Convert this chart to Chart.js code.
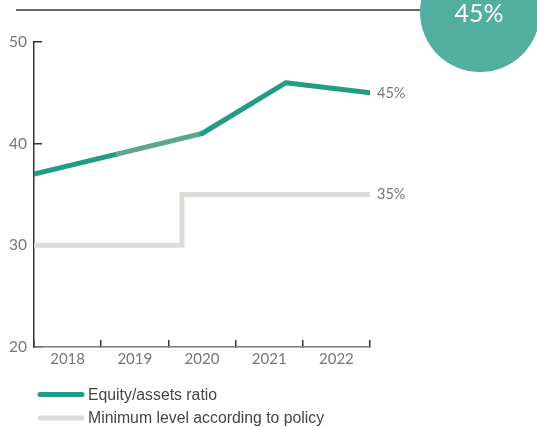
<!DOCTYPE html>
<html>
<head>
<meta charset="utf-8">
<script src="https://cdn.jsdelivr.net/npm/chart.js@4/dist/chart.umd.min.js"></script>
<style>
  html, body { margin: 0; padding: 0; background: #ffffff; }
  canvas { display: block; }
</style>
</head>
<body>
<canvas id="c" width="537" height="428"></canvas>
<script>
// Year labels along the bottom axis
const years = ['2018', '2019', '2020', '2021', '2022'];

// Equity/assets ratio (%), one value per year position
const equityX = [0, 1, 2, 3, 4];
const equityY = [37, 39, 41, 46, 45];

// Minimum level according to policy (%), stepped when the policy changed
const minX = [0, 1.76, 1.76, 4];
const minY = [30, 30, 35, 35];

// Y axis tick values
const yTicks = [20, 30, 40, 50];

const seriesNames = ['Equity/assets ratio', 'Minimum level according to policy'];

const TEAL = '#229c85';
const TEAL_LIGHT = '#5ba78f';
const GREY = '#dcdcd8';
const CIRCLE = '#52ae9f';
const LABEL_GREY = '#767676';
const TICK_FONT = "'Lato', 'Open Sans', sans-serif";

const toPoints = (xs, ys) => xs.map((x, i) => ({ x: x, y: ys[i] }));

// Extra drawings: header rule, highlight bubble, end-of-line labels, legend
const decorations = {
  id: 'decorations',
  afterDraw(chart) {
    const ctx = chart.ctx;
    ctx.save();

    // header rule
    ctx.strokeStyle = '#333333';
    ctx.lineWidth = 1.5;
    ctx.beginPath();
    ctx.moveTo(16, 10);
    ctx.lineTo(430, 10);
    ctx.stroke();

    // highlight bubble with the latest ratio
    ctx.fillStyle = CIRCLE;
    ctx.beginPath();
    ctx.arc(480, 12, 60, 0, Math.PI * 2);
    ctx.fill();
    const latest = chart.data.datasets[0].data;
    ctx.fillStyle = '#ffffff';
    ctx.font = "25px " + TICK_FONT;
    ctx.textAlign = 'center';
    ctx.textBaseline = 'middle';
    ctx.fillText(latest[latest.length - 1].y + '%', 479, 14);

    // end-of-line value labels
    ctx.font = "14.5px " + TICK_FONT;
    ctx.fillStyle = LABEL_GREY;
    ctx.textAlign = 'left';
    chart.data.datasets.forEach((ds, i) => {
      const meta = chart.getDatasetMeta(i);
      const pt = meta.data[meta.data.length - 1];
      ctx.fillText(ds.data[ds.data.length - 1].y + '%', pt.x + 7, pt.y);
    });

    // legend
    ctx.font = "15.8px 'Liberation Sans', Arial, sans-serif";
    ctx.lineCap = 'round';
    ctx.lineWidth = 5;
    chart.data.datasets.forEach((ds, i) => {
      const y = 394.5 + i * 23.5;
      ctx.strokeStyle = ds.borderColor;
      ctx.beginPath();
      ctx.moveTo(40, y);
      ctx.lineTo(82, y);
      ctx.stroke();
      ctx.fillStyle = '#444444';
      ctx.fillText(ds.label, 88, y + 1);
    });

    ctx.restore();
  }
};

new Chart(document.getElementById('c'), {
  type: 'line',
  data: {
    datasets: [
      {
        label: seriesNames[0],
        data: toPoints(equityX, equityY),
        borderColor: TEAL,
        borderWidth: 5,
        borderCapStyle: 'round',
        borderJoinStyle: 'round',
        pointRadius: 0,
        tension: 0,
        segment: {
          borderColor: c => (c.p0DataIndex === 1 ? TEAL_LIGHT : TEAL)
        }
      },
      {
        label: seriesNames[1],
        data: toPoints(minX, minY),
        borderColor: GREY,
        borderWidth: 5,
        borderCapStyle: 'round',
        borderJoinStyle: 'miter',
        pointRadius: 0,
        tension: 0
      }
    ]
  },
  options: {
    responsive: false,
    devicePixelRatio: 1,
    animation: false,
    events: [],
    layout: { padding: { left: 0, right: 167, top: 42, bottom: 0 } },
    plugins: {
      legend: { display: false },
      tooltip: { enabled: false }
    },
    scales: {
      x: {
        type: 'linear',
        min: 0,
        max: 4,
        display: false
      },
      xc: {
        type: 'category',
        labels: years,
        position: 'bottom',
        offset: true,
        afterFit: s => { s.height = 81; },
        grid: {
          offset: true,
          drawOnChartArea: false,
          drawTicks: true,
          tickLength: -7,
          color: '#333333',
          lineWidth: 1.5
        },
        border: { display: true, color: '#7a7a7a', width: 1.5 },
        ticks: {
          color: LABEL_GREY,
          padding: 10,
          font: { family: TICK_FONT, size: 15 }
        }
      },
      y: {
        type: 'linear',
        min: 20,
        max: 50,
        afterFit: s => { s.width = 34; },
        afterBuildTicks: s => { s.ticks = yTicks.map(v => ({ value: v })); },
        grid: {
          drawOnChartArea: false,
          drawTicks: true,
          tickLength: -8,
          color: '#333333',
          lineWidth: 1.5
        },
        border: { display: true, color: '#333333', width: 1.5 },
        ticks: {
          color: LABEL_GREY,
          padding: 15,
          font: { family: TICK_FONT, size: 15.5 }
        }
      }
    }
  },
  plugins: [decorations]
});
</script>
</body>
</html>
